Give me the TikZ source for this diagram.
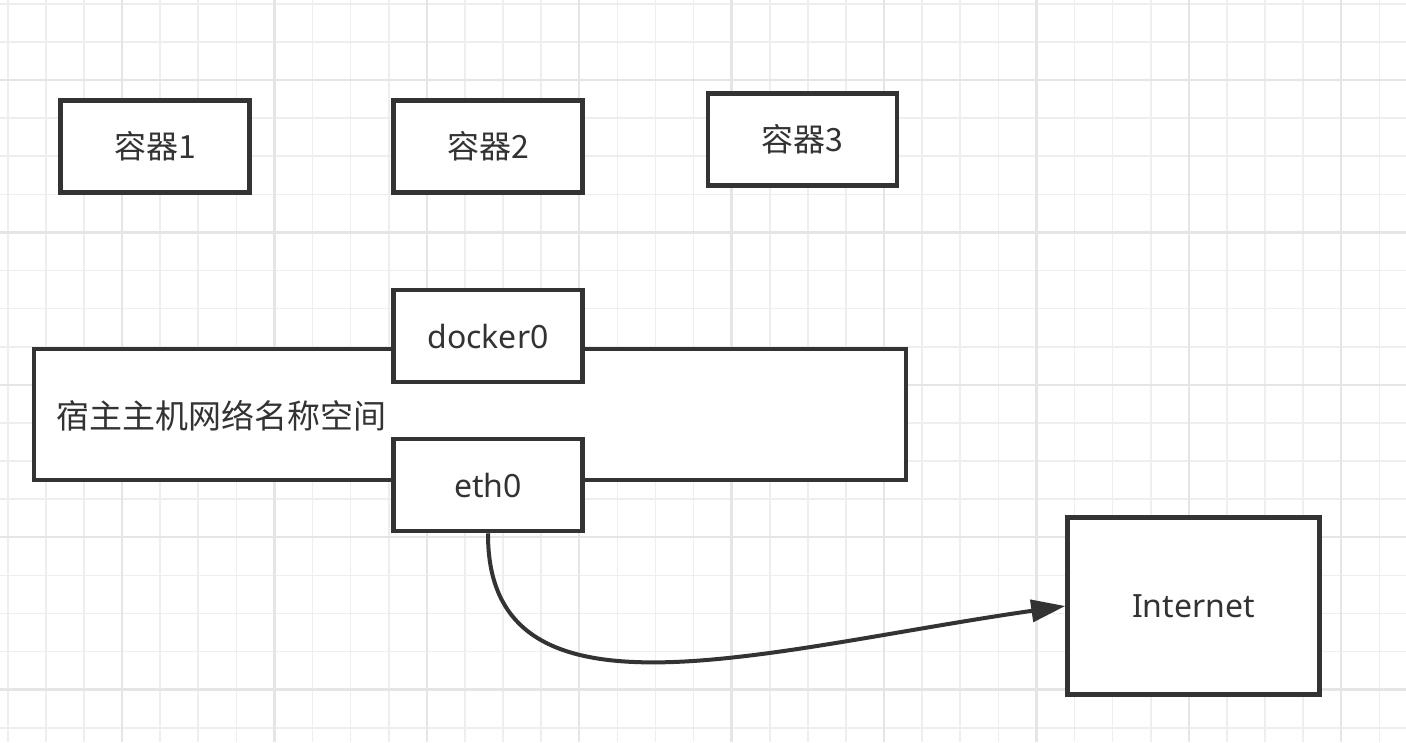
\documentclass[tikz,border=0pt]{standalone}
\usepackage{fontspec}
\setmainfont{Noto Sans}
\newfontfamily\cjk{Noto Sans CJK SC}
\usetikzlibrary{arrows.meta}
\definecolor{BoxGray}{RGB}{51,51,51}
\definecolor{GridMinor}{RGB}{238,238,238}
\definecolor{GridMajor}{RGB}{229,229,229}

\begin{document}
\begin{tikzpicture}[x=1pt,y=-1pt,
  box/.style={draw=BoxGray,line width=4.5pt,fill=white,minimum width=189pt,minimum height=92pt,inner sep=0pt,text=BoxGray,font=\fontsize{32}{38}\selectfont},
  minorline/.style={GridMinor,line width=1.6pt},
  majorline/.style={GridMajor,line width=2.4pt}]
\useasboundingbox[fill=white] (0,0) rectangle (1406,742);
% background grid
\foreach \k in {-3,...,33} {\draw[minorline] (122+38.1*\k,0) -- (122+38.1*\k,742);}
\foreach \k in {-2,...,17} {\draw[minorline] (0,80+38.1*\k) -- (1406,80+38.1*\k);}
\foreach \k in {0,4,...,32} {\draw[majorline] (122+38.1*\k,0) -- (122+38.1*\k,742);}
\foreach \k in {0,4,...,16} {\draw[majorline] (0,80+38.1*\k) -- (1406,80+38.1*\k);}
% containers
\node[box] (c1) at (155,146.5) {\cjk 容器1};
\node[box] (c2) at (488,146.5) {\cjk 容器2};
\node[box] (c3) at (802.5,139.5) {\cjk 容器3};
% host namespace
\node[box,minimum width=872pt,minimum height=131pt] (host) at (470,414.5) {};
\node[anchor=west,inner sep=0pt,text=BoxGray,font=\fontsize{33}{40}\selectfont] (hostname) at (56,416) {\cjk 宿主主机网络名称空间};
\node[box] (docker) at (488,336) {docker0};
\node[box] (eth) at (488,485) {eth0};
\node[box,minimum width=252pt,minimum height=177pt] (inet) at (1193.5,606) {Internet};
\draw[BoxGray,line width=4pt,-{Triangle[length=34pt,width=22pt]}] (eth.south) .. controls (487,735) and (760,650) .. (inet.west);
\end{tikzpicture}
\end{document}
